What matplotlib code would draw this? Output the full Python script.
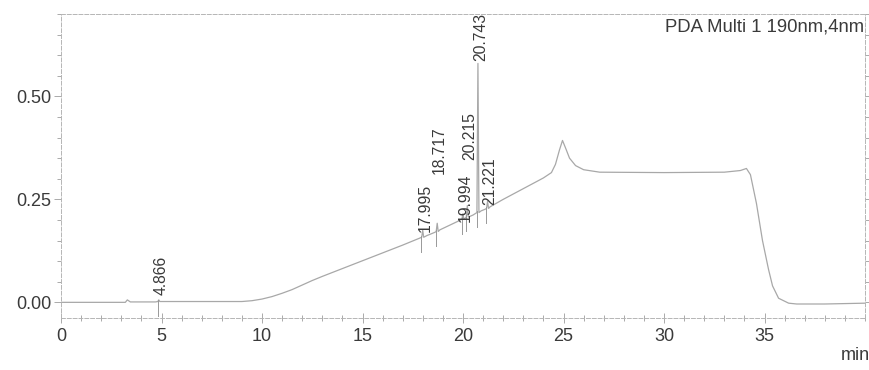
import matplotlib
matplotlib.use("Agg")
import matplotlib.pyplot as plt
from matplotlib.ticker import MultipleLocator

plt.rcParams['font.family'] = ['Liberation Sans', 'DejaVu Sans']

# Detector baseline (time in min, absorbance in AU)
base_t = [0.0, 3.2, 3.3, 3.45, 4.7, 5.0, 9.0, 9.5, 10.0, 10.5, 11.0, 11.5, 12.0,
          12.5, 13.0, 14.0, 15.0, 16.0, 17.0, 17.8, 18.2, 18.6, 18.85, 19.8,
          20.1, 20.5, 20.9, 21.1, 21.35, 22.0, 23.0, 24.0, 24.4, 24.6, 24.8,
          24.95, 25.1, 25.3, 25.6, 26.0, 26.8, 30.0, 33.0, 33.8, 34.1, 34.3,
          34.6, 34.9, 35.2, 35.4, 35.7, 36.2, 36.6, 38.0, 40.0]
base_v = [0.000, 0.000, 0.006, 0.001, 0.001, 0.002, 0.002, 0.004, 0.008, 0.014,
          0.022, 0.031, 0.042, 0.053, 0.063, 0.082, 0.101, 0.120, 0.139, 0.155,
          0.162, 0.170, 0.176, 0.198, 0.204, 0.212, 0.222, 0.226, 0.232, 0.250,
          0.276, 0.302, 0.315, 0.335, 0.370, 0.393, 0.375, 0.350, 0.332, 0.322,
          0.316, 0.315, 0.316, 0.320, 0.325, 0.310, 0.240, 0.150, 0.080, 0.040,
          0.010, -0.002, -0.004, -0.004, -0.002]

# Integrated peaks: retention time, apex height, foot height
peak_rt = [4.866, 17.995, 18.717, 19.994, 20.215, 20.743, 21.221]
peak_apex = [0.006, 0.175, 0.192, 0.215, 0.235, 0.580, 0.245]
peak_foot = [0.002, 0.158, 0.172, 0.202, 0.207, 0.218, 0.228]
peak_names = ["4.866", "17.995", "18.717", "19.994", "20.215", "20.743", "21.221"]

# Heights at which each retention-time label starts (avoids overlaps)
label_y = [0.017, 0.170, 0.312, 0.196, 0.345, 0.585, 0.236]

# Merge the baseline with the peak apexes into one trace
half_w = 0.05
pts = list(zip(base_t, base_v))
for rt, ap, ft in zip(peak_rt, peak_apex, peak_foot):
    pts = [p for p in pts if abs(p[0] - rt) > half_w * 1.5]
    pts += [(rt - half_w, ft), (rt, ap), (rt + half_w, ft)]
pts.sort()
trace_t = [p[0] for p in pts]
trace_v = [p[1] for p in pts]

fig = plt.figure(figsize=(8.69, 3.70), dpi=100)
ax = fig.add_axes([61 / 869, 1 - 318 / 370, 804 / 869, 304 / 370])

line_c = '#a8a8a8'
text_c = '#3a3a3a'

ax.plot(trace_t, trace_v, color=line_c, lw=0.9, solid_joinstyle='round')

# peak start markers
for rt, ft in zip(peak_rt, peak_foot):
    ax.plot([rt - 0.06, rt - 0.06], [ft - 0.035, ft + 0.004], color='#999999', lw=0.7)

for rt, name, ly in zip(peak_rt, peak_names, label_y):
    ax.text(rt + 0.12, ly, name, rotation=90, ha='center', va='bottom',
            fontsize=11.3, color=text_c)

ax.text(0.999, 0.985, "PDA Multi 1 190nm,4nm", transform=ax.transAxes,
        ha='right', va='top', fontsize=13.3, color=text_c)

ax.set_xlim(0, 40)
ax.set_ylim(-0.038, 0.70)
ax.set_xticks([0, 5, 10, 15, 20, 25, 30, 35])
ax.set_yticks([0.0, 0.25, 0.50])
ax.set_yticklabels(["0.00", "0.25", "0.50"])
ax.xaxis.set_minor_locator(MultipleLocator(1))
ax.yaxis.set_minor_locator(MultipleLocator(0.05))
ax.tick_params(axis='both', which='both', colors='#aaaaaa', labelcolor=text_c,
               labelsize=13, width=0.7)
ax.tick_params(axis='x', which='major', direction='inout', length=7, pad=4)
ax.tick_params(axis='x', which='minor', direction='inout', length=4)
ax.tick_params(axis='y', which='major', direction='out', length=5, pad=2)
ax.tick_params(axis='y', which='minor', direction='out', length=3)
ax.tick_params(axis='y', which='both', right=True)

for s in ax.spines.values():
    s.set_color('#b5b5b5')
    s.set_linestyle((0, (4, 2)))
    s.set_linewidth(0.7)

fig.text(855 / 869, 1 - 356 / 370, "min", ha='center', va='center',
         fontsize=13, color=text_c)

fig.savefig("out.png", dpi=100, facecolor='white')
